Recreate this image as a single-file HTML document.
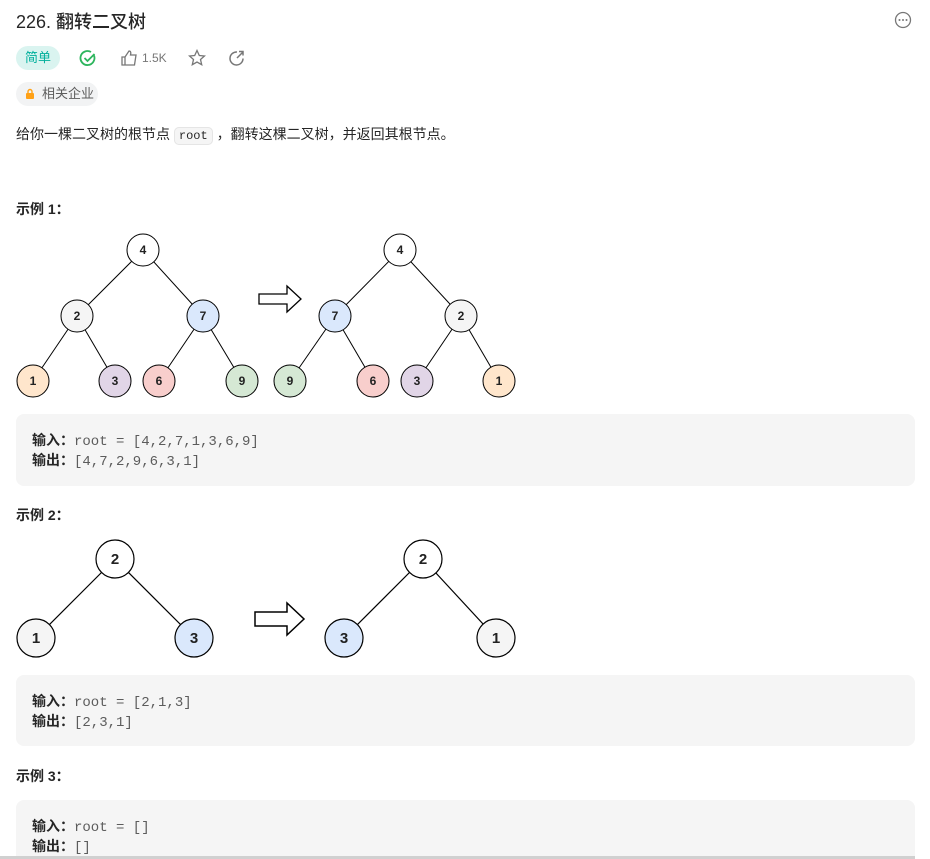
<!DOCTYPE html>
<html style="width:930px;height:859px;overflow:hidden"><head><meta charset="utf-8"><style>
html,body{margin:0;width:930px;height:859px;overflow:hidden}
body{background:#fff;position:relative;font-family:"Liberation Sans","Noto Sans CJK SC",sans-serif;color:#262626}
.a{position:absolute}
.pre{position:absolute;left:16px;width:899px;background:#f5f5f5;border-radius:8px}
.pre div{position:absolute;left:16px;font-size:14px;line-height:20px}
.pre b{font-weight:bold;color:#262626}
.m{font-family:"Liberation Mono",monospace;color:#5c5c5c;font-size:14px}
h3{position:absolute;left:16px;margin:0;font-size:14px;font-weight:bold}
</style></head><body>
<div class="a" style="left:16px;top:8px;font-size:18px;font-weight:500">226. 翻转二叉树</div>
<svg class="a" style="left:894px;top:11px" width="18" height="18"><circle cx="9" cy="9" r="7.5" fill="none" stroke="#777" stroke-width="1.3"/><circle cx="5.5" cy="9" r="1" fill="#777"/><circle cx="9" cy="9" r="1" fill="#777"/><circle cx="12.5" cy="9" r="1" fill="#777"/></svg>
<div class="a" style="left:16px;top:46px;width:44px;height:24px;border-radius:12px;background:#daf4f0;color:#00af9b;font-size:13px;line-height:24px;text-align:center">简单</div>
<svg class="a" style="left:79px;top:49px" width="18" height="18"><path d="M15 6.5A7 7 0 1 1 12 3" fill="none" stroke="#2db55d" stroke-width="1.8"/><path d="M5.5 9l3 3 7-7" fill="none" stroke="#2db55d" stroke-width="1.8"/></svg>
<svg class="a" style="left:120px;top:49px" width="18" height="18"><path d="M2 8h3v8H2zM5 8l4-6c2 0 2 2 1.5 4H16l-1.5 10H5" fill="none" stroke="#777" stroke-width="1.3"/></svg>
<div class="a" style="left:142px;top:51px;font-size:12px;color:#777">1.5K</div>
<svg class="a" style="left:188px;top:49px" width="18" height="18"><path d="M9 1.5l2.3 5 5.2.5-4 3.5 1.2 5.2L9 13l-4.7 2.7 1.2-5.2-4-3.5 5.2-.5z" fill="none" stroke="#777" stroke-width="1.3"/></svg>
<svg class="a" style="left:228px;top:49px" width="18" height="18"><path d="M15 9.5A6.5 6.5 0 1 1 9 3" fill="none" stroke="#777" stroke-width="1.5"/><path d="M9 9l6-6M11 2.5h4v4" fill="none" stroke="#777" stroke-width="1.5"/></svg>
<div class="a" style="left:16px;top:82px;width:82px;height:24px;border-radius:12px;background:#f2f3f4;font-size:13px;line-height:24px;color:#5c5c5c"><svg style="position:absolute;left:9px;top:6px" width="10" height="12"><rect x="1" y="5" width="8" height="6" rx="1" fill="#ffa116"/><path d="M3 5V3.5a2 2 0 0 1 4 0V5" fill="none" stroke="#ffa116" stroke-width="1.4"/></svg><span style="position:absolute;left:26px">相关企业</span></div>
<div class="a" style="left:16px;top:124px;font-size:14px;line-height:20px">给你一棵二叉树的根节点 <span class="m" style="background:#f5f5f5;border:1px solid #e5e5e5;border-radius:5px;padding:1px 4px;font-size:12px;color:#262626">root</span> ，翻转这棵二叉树，并返回其根节点。</div>
<h3 style="top:199px">示例 1：</h3>
<svg class="a" style="left:0;top:225px" width="530" height="180" font-family="Liberation Sans" font-size="12" font-weight="bold" text-anchor="middle">
<g stroke="#000" stroke-width="1">
<line x1="143" y1="25" x2="77" y2="91"/><line x1="143" y1="25" x2="203" y2="91"/>
<line x1="77" y1="91" x2="33" y2="156"/><line x1="77" y1="91" x2="115" y2="156"/>
<line x1="203" y1="91" x2="159" y2="156"/><line x1="203" y1="91" x2="242" y2="156"/>
<line x1="400" y1="25" x2="335" y2="91"/><line x1="400" y1="25" x2="461" y2="91"/>
<line x1="335" y1="91" x2="290" y2="156"/><line x1="335" y1="91" x2="373" y2="156"/>
<line x1="461" y1="91" x2="417" y2="156"/><line x1="461" y1="91" x2="499" y2="156"/>
<circle cx="143" cy="25" r="16" fill="#fff"/><circle cx="77" cy="91" r="16" fill="#f5f5f5"/><circle cx="203" cy="91" r="16" fill="#dae8fc"/>
<circle cx="33" cy="156" r="16" fill="#ffe6cc"/><circle cx="115" cy="156" r="16" fill="#e1d5e7"/><circle cx="159" cy="156" r="16" fill="#f8cecc"/><circle cx="242" cy="156" r="16" fill="#d5e8d4"/>
<circle cx="400" cy="25" r="16" fill="#fff"/><circle cx="335" cy="91" r="16" fill="#dae8fc"/><circle cx="461" cy="91" r="16" fill="#f5f5f5"/>
<circle cx="290" cy="156" r="16" fill="#d5e8d4"/><circle cx="373" cy="156" r="16" fill="#f8cecc"/><circle cx="417" cy="156" r="16" fill="#e1d5e7"/><circle cx="499" cy="156" r="16" fill="#ffe6cc"/>
<path d="M259 69h28v-8l14 13-14 13v-8h-28z" fill="#fff" stroke-width="1.3"/>
</g>
<g fill="#222"><text x="143" y="29">4</text><text x="77" y="95">2</text><text x="203" y="95">7</text><text x="33" y="160">1</text><text x="115" y="160">3</text><text x="159" y="160">6</text><text x="242" y="160">9</text>
<text x="400" y="29">4</text><text x="335" y="95">7</text><text x="461" y="95">2</text><text x="290" y="160">9</text><text x="373" y="160">6</text><text x="417" y="160">3</text><text x="499" y="160">1</text></g>
</svg>
<div class="pre" style="top:414px;height:72px"><div style="top:16px"><b>输入：</b><span class="m">root = [4,2,7,1,3,6,9]</span></div><div style="top:36px"><b>输出：</b><span class="m">[4,7,2,9,6,3,1]</span></div></div>
<h3 style="top:505px">示例 2：</h3>
<svg class="a" style="left:0;top:530px" width="530" height="140" font-family="Liberation Sans" font-size="15" font-weight="bold" text-anchor="middle">
<g stroke="#000" stroke-width="1.2">
<line x1="115" y1="29" x2="36" y2="108"/><line x1="115" y1="29" x2="194" y2="108"/>
<line x1="423" y1="29" x2="344" y2="108"/><line x1="423" y1="29" x2="496" y2="108"/>
<circle cx="115" cy="29" r="19" fill="#fff"/><circle cx="36" cy="108" r="19" fill="#f5f5f5"/><circle cx="194" cy="108" r="19" fill="#dae8fc"/>
<circle cx="423" cy="29" r="19" fill="#fff"/><circle cx="344" cy="108" r="19" fill="#dae8fc"/><circle cx="496" cy="108" r="19" fill="#f5f5f5"/>
<path d="M255 82h32v-9l17 16-17 16v-9h-32z" fill="#fff" stroke-width="1.5"/>
</g>
<g fill="#222"><text x="115" y="34">2</text><text x="36" y="113">1</text><text x="194" y="113">3</text><text x="423" y="34">2</text><text x="344" y="113">3</text><text x="496" y="113">1</text></g>
</svg>
<div class="pre" style="top:675px;height:71px"><div style="top:16px"><b>输入：</b><span class="m">root = [2,1,3]</span></div><div style="top:36px"><b>输出：</b><span class="m">[2,3,1]</span></div></div>
<h3 style="top:766px">示例 3：</h3>
<div class="pre" style="top:800px;height:59px;border-radius:8px 8px 0 0"><div style="top:16px"><b>输入：</b><span class="m">root = []</span></div><div style="top:36px"><b>输出：</b><span class="m">[]</span></div></div>
<div class="a" style="left:0;top:856px;width:915px;height:3px;background:#d0d0d0"></div>
</body></html>
